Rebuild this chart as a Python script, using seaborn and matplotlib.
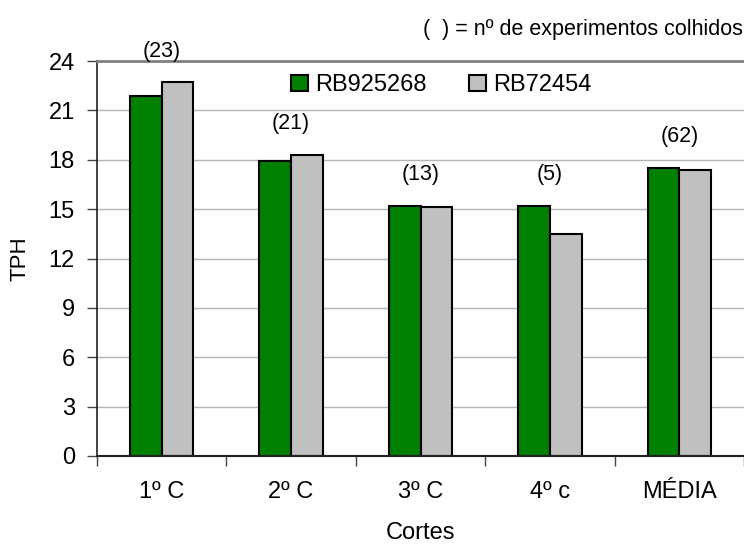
import matplotlib
matplotlib.use('Agg')
import matplotlib.pyplot as plt
import numpy as np
import pandas as pd
import seaborn as sns

cortes = ['1º C', '2º C', '3º C', '4º c', 'MÉDIA']
variedades = ['RB925268', 'RB72454']
tph_rb925268 = [21.9, 17.9, 15.2, 15.2, 17.5]
tph_rb72454 = [22.7, 18.3, 15.1, 13.5, 17.4]
n_experimentos = ['(23)', '(21)', '(13)', '(5)', '(62)']

GREEN = '#008000'
GRAY = '#c0c0c0'

sns.set_style('white')
plt.rcParams['font.family'] = ['Liberation Sans', 'DejaVu Sans']
plt.rcParams['text.color'] = 'black'
plt.rcParams['axes.labelcolor'] = 'black'
plt.rcParams['xtick.color'] = 'black'
plt.rcParams['ytick.color'] = 'black'

df = pd.DataFrame({
    'corte': cortes * 2,
    'variedade': [variedades[0]] * len(cortes) + [variedades[1]] * len(cortes),
    'tph': tph_rb925268 + tph_rb72454,
})

fig = plt.figure(figsize=(7.44, 5.47), dpi=100)
ax = fig.add_axes([97 / 744, 1 - 456 / 547, 1 - 97 / 744, 395 / 547])

sns.barplot(data=df, x='corte', y='tph', hue='variedade', order=cortes,
            hue_order=variedades, palette=[GREEN, GRAY], saturation=1,
            width=0.49, edgecolor='black', linewidth=1.5, ax=ax)

ax.set_ylim(0, 24)
ax.set_yticks(np.arange(0, 25, 3))
ax.set_xlim(-0.5, -0.5 + 647 / 130)
ax.set_axisbelow(True)
ax.yaxis.grid(True, color='#b4b4b4', linewidth=1)

ax.spines['right'].set_visible(False)
ax.spines['top'].set_color('#808080')
ax.spines['top'].set_linewidth(2)
ax.spines['left'].set_color('#222222')
ax.spines['left'].set_linewidth(1.2)
ax.spines['bottom'].set_color('#222222')
ax.spines['bottom'].set_linewidth(1.5)

ax.tick_params(axis='y', direction='out', length=7, width=1, color='#444444',
               labelsize=17, pad=9, left=True)
ax.set_xticks(np.arange(len(cortes)))
ax.set_xticklabels(cortes)
ax.set_xticks(np.arange(len(cortes) + 1) - 0.5, minor=True)
ax.tick_params(axis='x', which='major', length=0, labelsize=17, pad=18)
ax.tick_params(axis='x', which='minor', direction='out', length=7, width=1,
               color='#444444', bottom=True)

ax.set_xlabel('Cortes', fontsize=17, labelpad=14)
ax.set_ylabel('TPH', fontsize=16, labelpad=13)

# counts above each group, a fixed distance above the taller bar
tops = np.maximum(tph_rb925268, tph_rb72454)
for i, (lbl, top) in enumerate(zip(n_experimentos, tops)):
    ax.text(i, top + 1.9, lbl, ha='center', va='center', fontsize=15.5,
            clip_on=False)

handles, labels = ax.get_legend_handles_labels()
ax.legend(handles, labels, loc='center', bbox_to_anchor=(0.532, 0.939),
          ncol=2, frameon=False, fontsize=17, handlelength=0.7,
          handleheight=0.7, handletextpad=0.3, columnspacing=1.8,
          borderaxespad=0)

fig.text(743 / 744, 1 - 30 / 547, '(  ) = nº de experimentos colhidos',
         ha='right', va='center', fontsize=15.5)

fig.savefig('out.png', dpi=100)
